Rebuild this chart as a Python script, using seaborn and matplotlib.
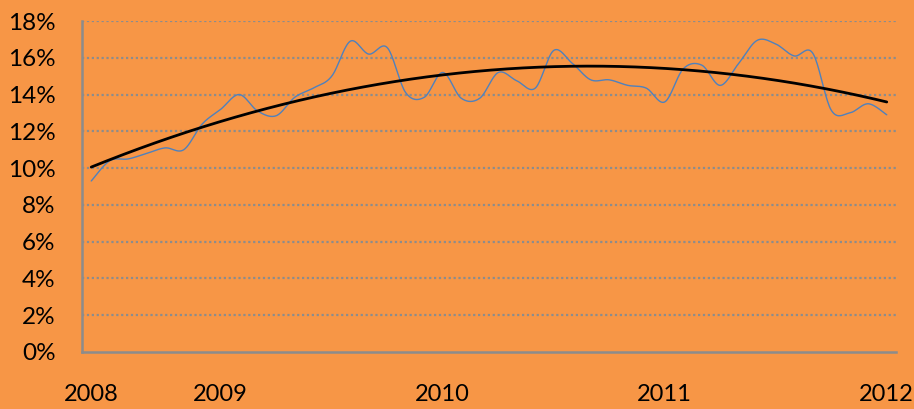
import numpy as np
import pandas as pd
import seaborn as sns
import matplotlib.pyplot as plt
from matplotlib.ticker import FixedLocator, FuncFormatter

# monthly values (percent)
rate = [9.3, 10.4, 10.5, 10.8, 11.1, 11.0, 12.4, 13.2, 14.0, 13.1,
        12.85, 13.85, 14.35, 15.0, 16.9, 16.2, 16.55, 14.1, 13.85, 15.2,
        13.8, 13.8, 15.2, 14.75, 14.35, 16.4, 15.7, 14.8, 14.8, 14.5,
        14.35, 13.6, 15.4, 15.6, 14.5, 15.7, 16.95, 16.75, 16.1, 16.25,
        13.15, 13.0, 13.5, 12.9]
year_pos = [0, 7, 19, 31, 43]
year_labels = ['2008', '2009', '2010', '2011', '2012']

BG = '#F79646'
GREY = '#8C8C8C'


def smooth_path(x, y, steps=20):
    """Excel style smoothed line (bezier through every point)"""
    x = np.asarray(x, float)
    y = np.asarray(y, float)
    px = np.concatenate([[x[0]], x, [x[-1]]])
    py = np.concatenate([[y[0]], y, [y[-1]]])
    xs, ys = [], []
    t = np.linspace(0, 1, steps, endpoint=False)
    for i in range(1, len(px) - 2):
        b0 = np.array([px[i], py[i]])
        b3 = np.array([px[i + 1], py[i + 1]])
        b1 = b0 + (np.array([px[i + 1], py[i + 1]]) - np.array([px[i - 1], py[i - 1]])) / 6
        b2 = b3 - (np.array([px[i + 2], py[i + 2]]) - np.array([px[i], py[i]])) / 6
        pts = ((1 - t) ** 3)[:, None] * b0 + (3 * (1 - t) ** 2 * t)[:, None] * b1 \
            + (3 * (1 - t) * t ** 2)[:, None] * b2 + (t ** 3)[:, None] * b3
        xs.extend(pts[:, 0])
        ys.extend(pts[:, 1])
    xs.append(x[-1])
    ys.append(y[-1])
    return np.array(xs), np.array(ys)


idx = np.arange(len(rate))
df = pd.DataFrame({'idx': idx, 'rate': rate})

sx, sy = smooth_path(df['idx'], df['rate'])
smooth_df = pd.DataFrame({'x': sx, 'y': sy})

# 2nd order polynomial trendline
coef = np.polyfit(df['idx'], df['rate'], 2)
tx = np.linspace(0, len(rate) - 1, 200)
trend_df = pd.DataFrame({'x': tx, 'y': np.polyval(coef, tx)})

sns.set_style('white', {'axes.facecolor': BG, 'figure.facecolor': BG})
plt.rcParams['font.family'] = ['Lato', 'DejaVu Sans']

fig = plt.figure(figsize=(9.14, 4.09), dpi=100)
ax = fig.add_axes([82 / 914, 1 - 352 / 409, (896 - 82) / 914, (352 - 21) / 409])

for v in range(2, 19, 2):
    ax.axhline(v, color=GREY, lw=1.6, ls=(0, (1, 1.2)), zorder=1)

sns.lineplot(data=smooth_df, x='x', y='y', ax=ax, color='#4F81BD', lw=1.0,
             estimator=None, sort=False, zorder=3)
sns.lineplot(data=trend_df, x='x', y='y', ax=ax, color='black', lw=2.0,
             estimator=None, sort=False, zorder=4)

ax.set_xlim(-0.5, len(rate) - 0.5)
ax.set_ylim(0, 18)
ax.set_xlabel('')
ax.set_ylabel('')

ax.set_yticks(range(0, 19, 2))
ax.yaxis.set_major_formatter(FuncFormatter(lambda v, p: f'{int(v)}%'))
ax.tick_params(axis='y', length=6, width=1.5, color=GREY, direction='out',
               pad=13, labelsize=17.5, labelcolor='black')

ax.xaxis.set_major_locator(FixedLocator(year_pos))
ax.set_xticklabels(year_labels)
ax.xaxis.set_minor_locator(FixedLocator(np.arange(-0.5, len(rate), 1)))
ax.tick_params(axis='x', which='major', length=0, pad=23, labelsize=17,
               labelcolor='black')
ax.tick_params(axis='x', which='minor', length=7, width=1.5, color=GREY,
               direction='out')

for side in ['top', 'right']:
    ax.spines[side].set_visible(False)
for side in ['left', 'bottom']:
    ax.spines[side].set_color(GREY)
    ax.spines[side].set_linewidth(1.8)

fig.savefig('out.png', dpi=100, facecolor=BG)
